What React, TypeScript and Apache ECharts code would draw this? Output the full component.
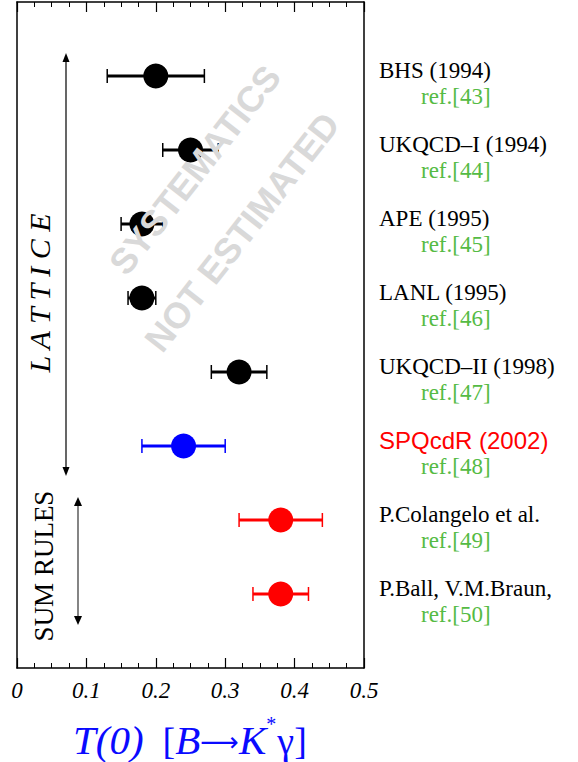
import React, { useEffect, useRef } from "react";
import * as echarts from "echarts";

const names = [
  "BHS (1994)",
  "UKQCD\u2013I (1994)",
  "APE (1995)",
  "LANL (1995)",
  "UKQCD\u2013II (1998)",
  "SPQcdR (2002)",
  "P.Colangelo et al.",
  "P.Ball, V.M.Braun,",
];
const refs = ["ref.[43]", "ref.[44]", "ref.[45]", "ref.[46]", "ref.[47]", "ref.[48]", "ref.[49]", "ref.[50]"];
const centralValues = [0.2, 0.25, 0.18, 0.18, 0.32, 0.24, 0.38, 0.38];
const lowerValues = [0.13, 0.21, 0.15, 0.16, 0.28, 0.18, 0.32, 0.34];
const upperValues = [0.27, 0.29, 0.21, 0.2, 0.36, 0.3, 0.44, 0.42];
const rowPositions = [1, 2, 3, 4, 5, 6, 7, 8];
const pointColors = ["#000000", "#000000", "#000000", "#000000", "#000000", "#0000ff", "#ff0000", "#ff0000"];
const nameColors = ["#000000", "#000000", "#000000", "#000000", "#000000", "#ff0000", "#000000", "#000000"];
const nameFonts = ["serif", "serif", "serif", "serif", "serif", "sans", "serif", "serif"];
const xMin = 0;
const xMax = 0.5;
const xInterval = 0.1;

const SERIF = "Liberation Serif, serif";
const SANS = "Liberation Sans, sans-serif";

export default function App() {
  const ref = useRef<HTMLDivElement>(null);
  useEffect(() => {
    document.body.style.margin = "0";
    const chart = echarts.init(ref.current!, null, { renderer: "svg" });

    const xAxisBase = {
      type: "value",
      min: xMin,
      max: xMax,
      interval: xInterval,
      axisLine: { show: true, onZero: false, lineStyle: { color: "#000", width: 1.5 } },
      axisTick: { show: true, inside: true, length: 10, lineStyle: { color: "#000", width: 1.2 } },
      minorTick: { show: true, splitNumber: 4, length: 5, lineStyle: { color: "#000", width: 1 } },
      splitLine: { show: false },
      minorSplitLine: { show: false },
    };
    const yAxisBase = {
      type: "value",
      min: 0,
      max: 9,
      inverse: true,
      axisLine: { show: true, onZero: false, lineStyle: { color: "#000", width: 1.5 } },
      axisTick: { show: false },
      axisLabel: { show: false },
      splitLine: { show: false },
    };

    const arrowColor = "#000";
    const blue = "#0a0aff";

    chart.setOption({
      animation: false,
      textStyle: { fontFamily: SERIF },
      grid: { left: 17, top: 2, width: 347, height: 666, containLabel: false },
      xAxis: [
        {
          ...xAxisBase,
          position: "bottom",
          axisLabel: {
            show: true,
            margin: 11,
            fontFamily: SERIF,
            fontStyle: "italic",
            fontSize: 23,
            color: "#000",
            formatter: (v: number) => (v === 0 ? "0" : v.toFixed(1)),
          },
        },
        { ...xAxisBase, position: "top", axisLabel: { show: false } },
      ],
      yAxis: [
        { ...yAxisBase, position: "left" },
        { ...yAxisBase, position: "right" },
      ],
      series: [
        {
          type: "custom",
          xAxisIndex: 0,
          yAxisIndex: 0,
          clip: false,
          z: 2,
          data: rowPositions.map((r, i) => [lowerValues[i], r, upperValues[i], i]),
          encode: { x: [0, 2], y: 1 },
          renderItem: (params: any, api: any) => {
            const i = api.value(3);
            const lo = api.coord([api.value(0), api.value(1)]);
            const hi = api.coord([api.value(2), api.value(1)]);
            const color = pointColors[i];
            const right = params.coordSys.x + params.coordSys.width;
            const capH = 7;
            const isSans = nameFonts[i] === "sans";
            return {
              type: "group",
              children: [
                { type: "line", shape: { x1: lo[0], y1: lo[1], x2: hi[0], y2: hi[1] }, style: { stroke: color, lineWidth: 3 } },
                { type: "line", shape: { x1: lo[0], y1: lo[1] - capH, x2: lo[0], y2: lo[1] + capH }, style: { stroke: color, lineWidth: 1.5 } },
                { type: "line", shape: { x1: hi[0], y1: hi[1] - capH, x2: hi[0], y2: hi[1] + capH }, style: { stroke: color, lineWidth: 1.5 } },
                {
                  type: "text",
                  x: right + 15,
                  y: lo[1] - 6,
                  style: {
                    text: names[i],
                    fill: nameColors[i],
                    fontFamily: isSans ? SANS : SERIF,
                    fontSize: isSans ? 24 : 23,
                    align: "left",
                    verticalAlign: "middle",
                  },
                },
                {
                  type: "text",
                  x: right + 57,
                  y: lo[1] + 20,
                  style: {
                    text: refs[i],
                    fill: "#55bb44",
                    fontFamily: SERIF,
                    fontSize: 23,
                    align: "left",
                    verticalAlign: "middle",
                  },
                },
              ],
            };
          },
        },
        {
          type: "scatter",
          xAxisIndex: 0,
          yAxisIndex: 0,
          symbol: "circle",
          symbolSize: 25,
          z: 3,
          data: rowPositions.map((r, i) => ({ value: [centralValues[i], r], itemStyle: { color: pointColors[i], opacity: 1 } })),
        },
      ],
      graphic: [
        {
          type: "text",
          x: 195,
          y: 170,
          rotation: (52 * Math.PI) / 180,
          z: 100,
          style: { text: "SYSTEMATICS", fill: "#d9d9d9", font: `bold 36px ${SANS}`, align: "center", verticalAlign: "middle" },
        },
        {
          type: "text",
          x: 242,
          y: 232,
          rotation: (52 * Math.PI) / 180,
          z: 100,
          style: { text: "NOT ESTIMATED", fill: "#d9d9d9", font: `bold 36px ${SANS}`, align: "center", verticalAlign: "middle" },
        },
        {
          type: "text",
          x: 39,
          y: 293,
          rotation: Math.PI / 2,
          style: { text: "L A T T I C E", fill: "#000", font: `italic 30px ${SERIF}`, align: "center", verticalAlign: "middle" },
        },
        { type: "line", shape: { x1: 66, y1: 60, x2: 66, y2: 469 }, style: { stroke: arrowColor, lineWidth: 1.2 } },
        { type: "polygon", shape: { points: [[66, 53], [62.5, 62], [69.5, 62]] }, style: { fill: arrowColor } },
        { type: "polygon", shape: { points: [[66, 476], [62.5, 467], [69.5, 467]] }, style: { fill: arrowColor } },
        {
          type: "text",
          x: 44,
          y: 566,
          rotation: Math.PI / 2,
          style: { text: "SUM RULES", fill: "#000", font: `27px ${SERIF}`, align: "center", verticalAlign: "middle" },
        },
        { type: "line", shape: { x1: 78, y1: 504, x2: 78, y2: 618 }, style: { stroke: "#333", lineWidth: 1.2 } },
        { type: "polygon", shape: { points: [[78, 497], [74, 506], [82, 506]] }, style: { fill: arrowColor } },
        { type: "polygon", shape: { points: [[78, 625], [74, 616], [82, 616]] }, style: { fill: arrowColor } },
        {
          type: "text",
          x: 73,
          y: 714,
          style: {
            text: "{i|T(0)}{n|  [}{i|B}{a|\u27f6}{i|K}{s|*}{n|\u03b3]}",
            fill: blue,
            font: `38px ${SERIF}`,
            rich: {
              i: { fontStyle: "italic", fontSize: 41, fontFamily: SERIF, fill: blue, lineHeight: 46, verticalAlign: "bottom" },
              n: { fontSize: 38, fontFamily: SERIF, fill: blue, lineHeight: 46, verticalAlign: "bottom" },
              a: { fontSize: 27, fontFamily: "DejaVu Sans", fill: blue, lineHeight: 46, verticalAlign: "bottom", padding: [0, 0, 5, 0] },
              s: { fontSize: 20, fontFamily: SERIF, fill: blue, lineHeight: 46, verticalAlign: "top", padding: [0, 1, 0, 0] },
            },
          },
        },
      ],
    });
    return () => chart.dispose();
  }, []);
  return <div ref={ref} style={{ width: 578, height: 762 }} />;
}
